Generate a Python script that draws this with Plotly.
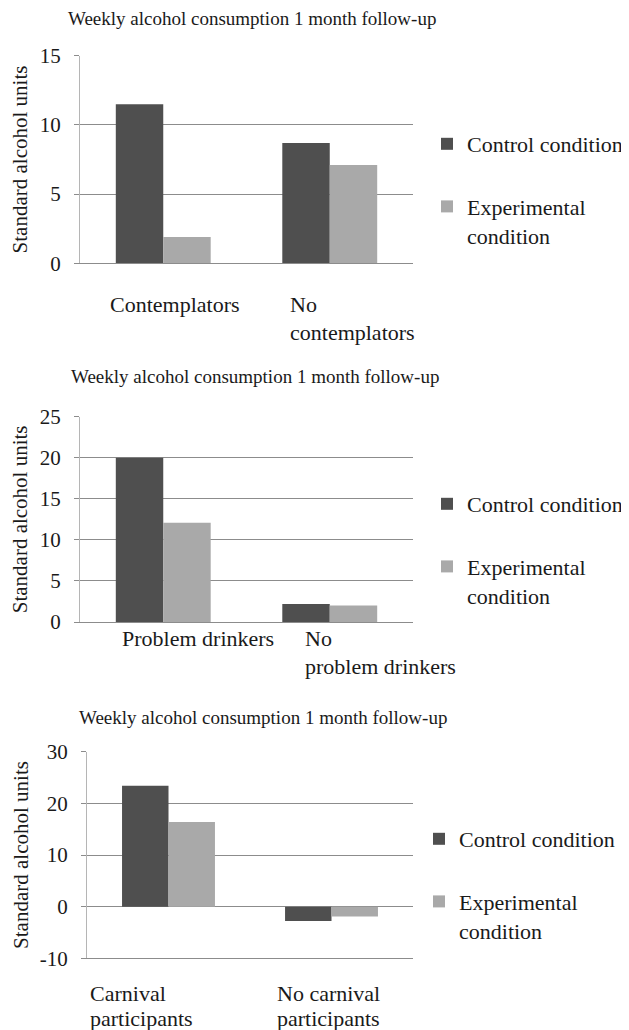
import plotly.graph_objects as go

# ---- data ----
title_text = "Weekly alcohol consumption 1 month follow-up"
y_title = "Standard alcohol units"
series_names = ["Control condition", "Experimental<br>condition"]

cats1 = ["Contemplators", "No contemplators"]
control1 = [11.5, 8.7]
experimental1 = [1.9, 7.1]

cats2 = ["Problem drinkers", "No problem drinkers"]
control2 = [20.0, 2.2]
experimental2 = [12.1, 2.0]

cats3 = ["Carnival participants", "No carnival participants"]
control3 = [23.4, -2.8]
experimental3 = [16.4, -1.9]

labels1 = ["Contemplators", "No<br>contemplators"]
labels2 = ["Problem drinkers", "No<br>problem drinkers"]
labels3 = ["Carnival<br>participants", "No carnival<br>participants"]

tickvals1 = [0, 5, 10, 15]
tickvals2 = [0, 5, 10, 15, 20, 25]
tickvals3 = [-10, 0, 10, 20, 30]
ticktext1 = ["0", "5", "10", "15"]
ticktext2 = ["0", "5", "10", "15", "20", "25"]
ticktext3 = ["-10", "0", "10", "20", "30"]

ranges = [[0, 15], [0, 25], [-10, 30]]

# ---- styling ----
OFF = 8                     # page body margin in the browser
W, H = 629 - OFF, 1030 - OFF
FONT = "Liberation Serif"
TXT = "#1a1a1a"
C_CTRL = "#4f4f4f"
C_EXP = "#a9a9a9"
GRID = "#8c8c8c"
AXL = "#b5b5b5"

def fx(px):
    return (px - OFF) / W

def fy(px):
    return 1 - (px - OFF) / H

panels = [
    dict(cats=cats1, c=control1, e=experimental1, labels=labels1, tv=tickvals1, tt=ticktext1,
         xl=80, xr=413, ytop=55.7, ybot=263.3, title_y=18.5, title_x=252,
         leg_x=427, leg_y=123, label_y=305, line_gap=27, label_shift=[-55, -42], ystand=8),
    dict(cats=cats2, c=control2, e=experimental2, labels=labels2, tv=tickvals2, tt=ticktext2,
         xl=80, xr=413, ytop=416.7, ybot=622, title_y=376, title_x=255,
         leg_x=427, leg_y=483, label_y=638, line_gap=28, label_shift=[-43, -27], ystand=8),
    dict(cats=cats3, c=control3, e=experimental3, labels=labels3, tv=tickvals3, tt=ticktext3,
         xl=87, xr=413, ytop=751.7, ybot=958.3, title_y=717, title_x=263,
         leg_x=419, leg_y=818, label_y=993, line_gap=25, label_shift=[-81, -57], ystand=5),
]

fig = go.Figure()
annotations = []
layout = {}
for i, p in enumerate(panels):
    n = "" if i == 0 else str(i + 1)
    xa, ya = "x" + n, "y" + n
    leg = "legend" + n
    fig.add_trace(go.Bar(x=p["cats"], y=p["c"], name=series_names[0], marker_color=C_CTRL,
                         marker_line_width=0, xaxis=xa, yaxis=ya, legend=leg,
                         legendgroup="c" + n))
    fig.add_trace(go.Bar(x=p["cats"], y=p["e"], name=series_names[1], marker_color=C_EXP,
                         marker_line_width=0, xaxis=xa, yaxis=ya, legend=leg,
                         legendgroup="e" + n))
    layout["xaxis" + n] = dict(domain=[fx(p["xl"]), fx(p["xr"])], anchor=ya,
                               type="category", categoryorder="array",
                               categoryarray=p["cats"], range=[-0.5, 1.5],
                               showticklabels=False, showline=True, linecolor=GRID,
                               linewidth=1, showgrid=False, zeroline=False, fixedrange=True)
    layout["yaxis" + n] = dict(domain=[fy(p["ybot"]), fy(p["ytop"])], anchor=xa,
                               range=ranges[i], tickmode="array", tickvals=p["tv"],
                               ticktext=p["tt"], showline=True,
                               linecolor=AXL, linewidth=1, gridcolor=GRID, gridwidth=1,
                               zeroline=True, zerolinecolor=GRID, zerolinewidth=1,
                               ticks="outside", ticklen=5, tickcolor=GRID,
                               ticklabelstandoff=9,
                               tickfont=dict(family=FONT, size=21, color=TXT),
                               title=dict(text=y_title, standoff=p["ystand"],
                                          font=dict(family=FONT, size=21, color=TXT)))
    layout[leg] = dict(x=fx(p["leg_x"]), xanchor="left", y=fy(p["leg_y"]), yanchor="top",
                       font=dict(family=FONT, size=22, color=TXT), valign="top",
                       tracegroupgap=31, bgcolor="rgba(0,0,0,0)", itemwidth=30,
                       traceorder="grouped")
    annotations.append(dict(text=title_text, xref="paper", yref="paper",
                            x=fx(p["title_x"]), y=fy(p["title_y"]), xanchor="center",
                            yanchor="middle", showarrow=False,
                            font=dict(family=FONT, size=19, color=TXT)))
    for cat, lab, sh in zip(p["cats"], p["labels"], p["label_shift"]):
        for k, line in enumerate(lab.split("<br>")):
            annotations.append(dict(text=line, xref=xa, yref="paper", x=cat,
                                    y=fy(p["label_y"] + k * p["line_gap"]),
                                    xanchor="left", yanchor="middle",
                                    xshift=sh, align="left", showarrow=False,
                                    font=dict(family=FONT, size=22, color=TXT)))

fig.update_layout(
    width=W, height=H,
    margin=dict(l=0, r=0, t=0, b=0, autoexpand=False),
    paper_bgcolor="white", plot_bgcolor="white",
    barmode="group", bargap=0.43, bargroupgap=0,
    annotations=annotations,
    font=dict(family=FONT, color=TXT),
    **layout,
)

fig.write_html("out.html")
